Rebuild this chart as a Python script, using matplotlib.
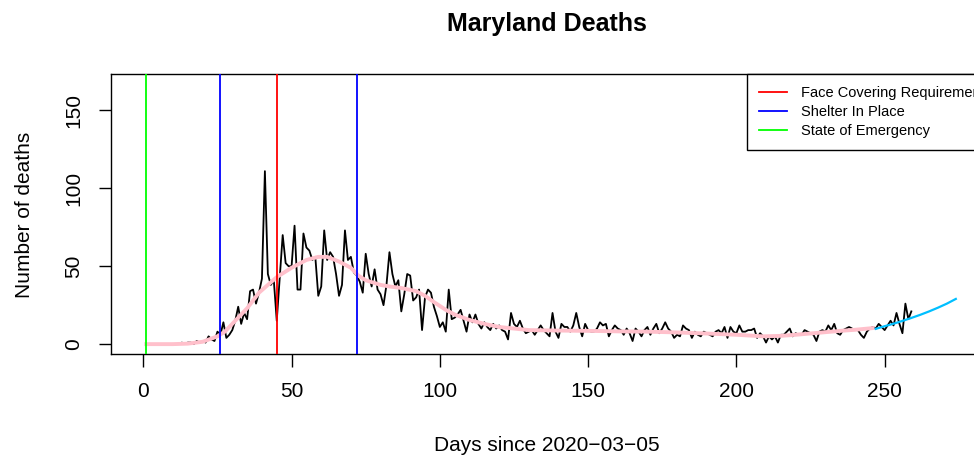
import numpy as np
import matplotlib
matplotlib.use("Agg")
import matplotlib.pyplot as plt

plt.rcParams['font.family'] = ['Liberation Sans', 'DejaVu Sans']

# daily deaths, day 1 .. 259
deaths = [
    0, 0, 0, 0, 0, 0, 0, 0, 0, 0,
    0, 0, 1, 0, 1, 1, 0, 2, 1, 2,
    1, 5, 3, 2, 8, 6, 14, 4, 6, 9,
    15, 24, 13, 20, 16, 34, 35, 26, 33, 42,
    111, 45, 38, 41, 15, 42, 70, 52, 50, 50,
    76, 35, 35, 71, 62, 60, 54, 56, 31, 37,
    73, 54, 59, 56, 45, 31, 38, 73, 54, 56,
    46, 44, 40, 33, 58, 45, 37, 48, 35, 32,
    25, 38, 59, 45, 37, 41, 21, 32, 45, 44,
    28, 30, 35, 9, 30, 35, 33, 24, 18, 11,
    14, 8, 35, 16, 17, 19, 22, 15, 8, 19,
    14, 19, 13, 10, 14, 11, 9, 13, 10, 12,
    9, 8, 3, 20, 13, 11, 15, 10, 7, 8,
    9, 6, 9, 12, 9, 7, 5, 20, 8, 4,
    13, 11, 11, 8, 12, 20, 11, 5, 13, 9,
    8, 8, 10, 14, 12, 13, 5, 9, 12, 10,
    9, 6, 10, 7, 2, 10, 8, 5, 9, 11,
    6, 10, 13, 7, 10, 14, 10, 8, 4, 6,
    5, 12, 10, 9, 4, 8, 6, 5, 8, 7,
    6, 5, 8, 9, 7, 11, 4, 11, 8, 7,
    12, 8, 8, 9, 9, 10, 4, 7, 5, 1,
    5, 3, 5, 1, 6, 6, 8, 10, 5, 7,
    6, 6, 9, 8, 7, 6, 2, 8, 9, 8,
    12, 9, 13, 7, 6, 9, 10, 11, 10, 9,
    9, 6, 4, 8, 10, 11, 10, 13, 11, 9,
    12, 15, 12, 20, 13, 7, 26, 16, 21,
]
days = np.arange(1, len(deaths) + 1)

# smoothed trend (pink)
smooth_days = [1, 10, 15, 20, 25, 27.5, 30, 35, 39, 42, 45, 50, 55, 59, 62, 66,
               70, 72.5, 75, 80, 83, 87, 92, 95, 98, 102, 105, 110, 115, 120,
               130, 140, 150, 160, 170, 180, 190, 200, 209, 215, 220, 226, 235,
               240, 246]
smooth_vals = [0, 0, 0.3, 1.5, 5, 8, 13, 23, 33, 38, 43, 49, 54, 56, 56, 53,
               49, 44, 41, 38, 37, 36, 34, 31, 27, 22, 19, 15.5, 13, 11,
               9, 8.7, 8.5, 8.2, 8, 7.5, 6.8, 6, 5, 5.3, 6, 7, 8.5,
               9.2, 10.3]

# forecast (blue)
fc_days = [247, 250, 253, 256, 259, 262, 265, 268, 271, 274]
fc_vals = [9.8, 11.5, 13.1, 14.9, 16.8, 18.8, 21.0, 23.4, 26.0, 29.0]

# events
ev_labels = ["Face Covering Requirement", "Shelter In Place", "State of Emergency"]
ev_colors = ["red", "blue", "#00ff00"]
ev_days = [[45], [26, 72], [1]]

fig = plt.figure(figsize=(9.74, 4.59), dpi=100)
ax = fig.add_axes([0.11396, 0.22767, 0.89476, 0.61046])

ax.plot(days, deaths, color="black", lw=1.3, zorder=2)
ax.plot(smooth_days, smooth_vals, color="pink", lw=2.8, zorder=3)
ax.plot(fc_days, fc_vals, color="deepskyblue", lw=1.6, zorder=3)

handles = []
for lab, col, dd in zip(ev_labels, ev_colors, ev_days):
    for d in dd:
        ax.axvline(d, color=col, lw=1.3, zorder=4)
    handles.append(plt.Line2D([], [], color=col, lw=1.3, label=lab))

ax.set_xlim(-10.9, 283)
ax.set_ylim(-6.66, 173.16)
ax.set_xticks([0, 50, 100, 150, 200, 250])
ax.set_yticks([0, 50, 100, 150])
ax.tick_params(axis="both", labelsize=15, length=9, width=1, pad=11)
for lbl in ax.get_yticklabels():
    lbl.set_rotation(90)
    lbl.set_va("center")
for s in ax.spines.values():
    s.set_linewidth(1)

ax.set_xlabel("Days since 2020\u221203\u221205", fontsize=15, labelpad=25)
ax.set_ylabel("Number of deaths", fontsize=15, labelpad=22)
fig.text(0.5613, 0.948, "Maryland Deaths", ha="center", va="center",
         fontsize=18, fontweight="bold")

leg = ax.legend(handles=handles, loc="upper left", bbox_to_anchor=(0.7298, 1.0),
                borderaxespad=0, fontsize=10.5, fancybox=False, framealpha=1,
                edgecolor="black", handlelength=1.92, handletextpad=0.94,
                labelspacing=0.34, borderpad=0.83)
leg.get_frame().set_linewidth(1)

fig.savefig("out.png", dpi=100)
